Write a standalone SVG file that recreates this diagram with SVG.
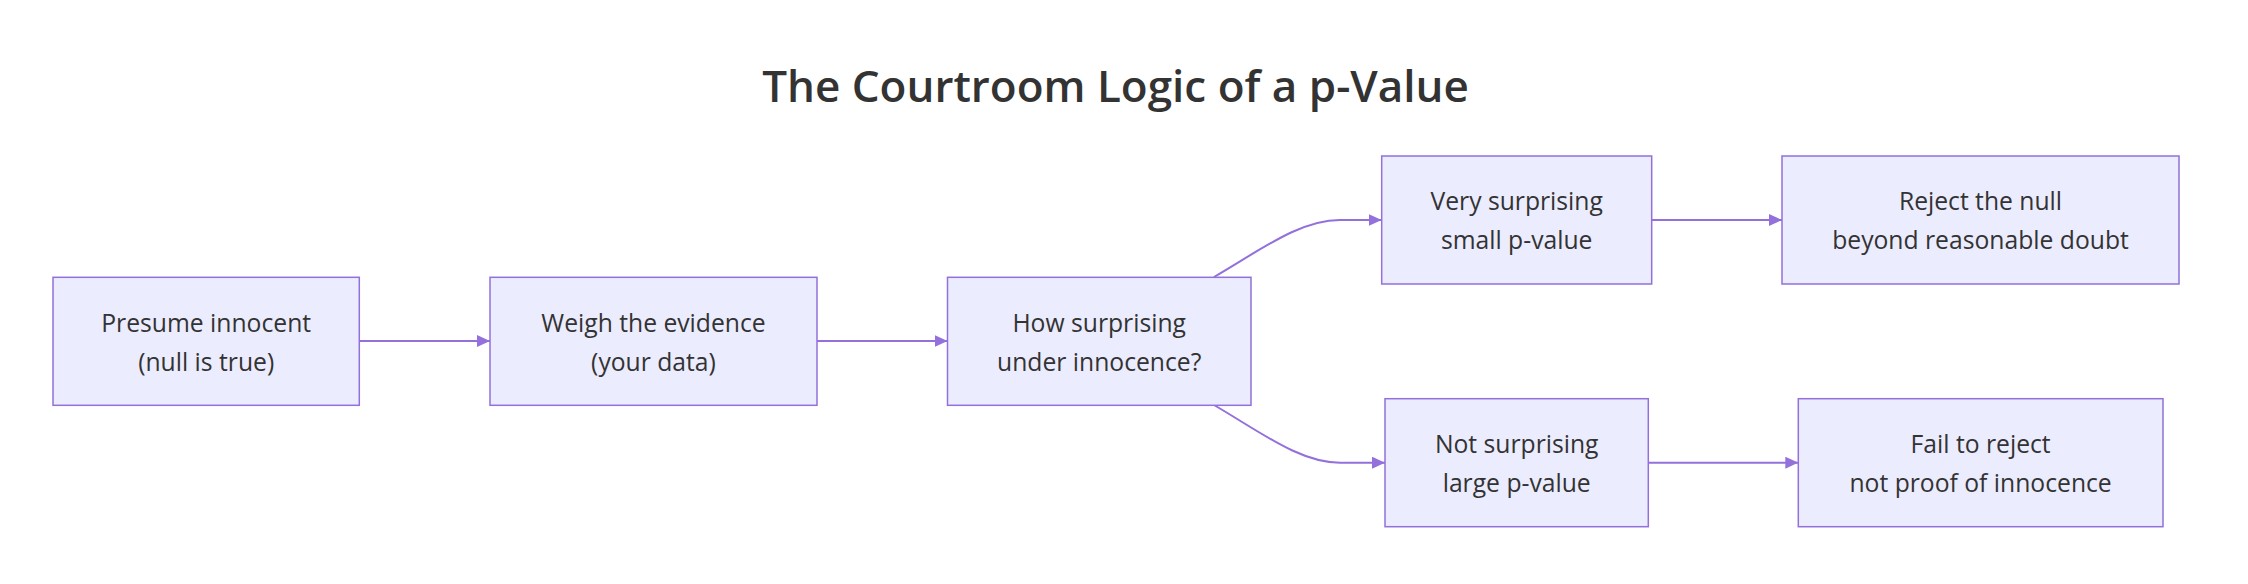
<svg xmlns="http://www.w3.org/2000/svg" width="2248" height="584" viewBox="0 0 2248 584">
<style>
.node rect{fill:#ECECFF;stroke:#9370DB;stroke-width:1.5}
.node text{font-family:"Open Sans","Noto Sans","Liberation Sans",sans-serif;font-size:24.7px;fill:#333333;text-anchor:middle}
.title{font-family:"Open Sans","Noto Sans","Liberation Sans",sans-serif;font-size:44px;font-weight:600;fill:#333333;text-anchor:middle}
.edge{fill:none;stroke:#9370DB;stroke-width:2}
</style>
<defs>
<marker id="arrow" markerUnits="userSpaceOnUse" markerWidth="13" markerHeight="12" refX="13" refY="6" orient="auto" viewBox="0 0 13 12">
<path d="M0,0 L13,6 L0,12 z" fill="#9370DB"/>
</marker>
</defs>
<rect width="2248" height="584" fill="#ffffff"/>
<text class="title" x="1115.5" y="101.5">The Courtroom Logic of a p-Value</text>
<g id="connectors">
<path class="edge" d="M359.5,341 L490,341" marker-end="url(#arrow)"/>
<path class="edge" d="M817,341 L947.5,341" marker-end="url(#arrow)"/>
<path class="edge" d="M1214,277 C1262,249 1300,220 1340,220 L1381.7,220" marker-end="url(#arrow)"/>
<path class="edge" d="M1214,405 C1262,433 1300,462.7 1340,462.7 L1385,462.7" marker-end="url(#arrow)"/>
<path class="edge" d="M1651.7,220 L1782,220" marker-end="url(#arrow)"/>
<path class="edge" d="M1648.3,462.7 L1798.3,462.7" marker-end="url(#arrow)"/>
</g>
<g id="node-presume" class="node">
<rect x="53" y="277.3" width="306.3" height="128"/>
<text x="206.2" y="331.5">Presume innocent</text>
<text x="206.2" y="370.5">(null is true)</text>
</g>
<g id="node-weigh" class="node">
<rect x="490" y="277.3" width="327" height="128"/>
<text x="653.5" y="331.5">Weigh the evidence</text>
<text x="653.5" y="370.5">(your data)</text>
</g>
<g id="node-how" class="node">
<rect x="947.5" y="277.3" width="303.5" height="128"/>
<text x="1099.2" y="331.5">How surprising</text>
<text x="1099.2" y="370.5">under innocence?</text>
</g>
<g id="node-very" class="node">
<rect x="1381.7" y="156" width="270" height="128"/>
<text x="1516.7" y="210">Very surprising</text>
<text x="1516.7" y="249">small p-value</text>
</g>
<g id="node-not" class="node">
<rect x="1385" y="398.7" width="263.3" height="128"/>
<text x="1516.7" y="452.7">Not surprising</text>
<text x="1516.7" y="491.7">large p-value</text>
</g>
<g id="node-reject" class="node">
<rect x="1782" y="156" width="397" height="128"/>
<text x="1980.5" y="210">Reject the null</text>
<text x="1980.5" y="249">beyond reasonable doubt</text>
</g>
<g id="node-fail" class="node">
<rect x="1798.3" y="398.7" width="364.7" height="128"/>
<text x="1980.6" y="452.7">Fail to reject</text>
<text x="1980.6" y="491.7">not proof of innocence</text>
</g>
</svg>
